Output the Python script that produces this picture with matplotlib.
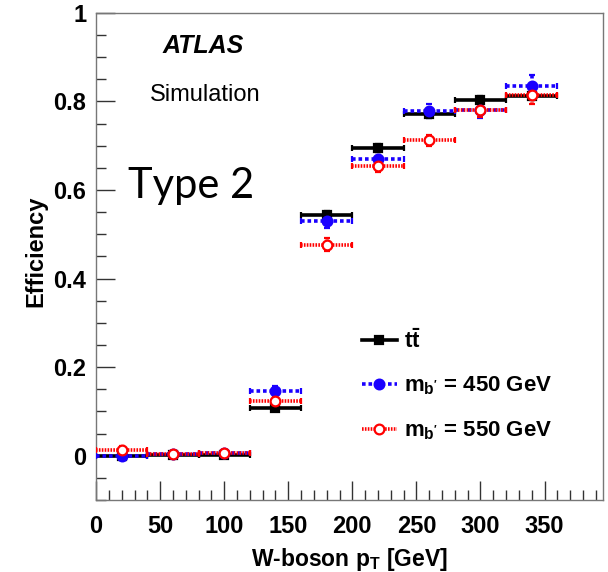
import numpy as np
import matplotlib
matplotlib.use('Agg')
import matplotlib.pyplot as plt
from matplotlib.lines import Line2D
from matplotlib.ticker import MultipleLocator, FixedFormatter, FixedLocator

# W-boson pT bins (GeV)
bin_lo = [0, 40, 80, 120, 160, 200, 240, 280, 320]
bin_hi = [40, 80, 120, 160, 200, 240, 280, 320, 360]

# tagging efficiency per bin
eff_ttbar = [0.000, 0.001, 0.001, 0.108, 0.543, 0.695, 0.771, 0.803, 0.813]
err_ttbar = [0.004, 0.004, 0.004, 0.006, 0.010, 0.008, 0.008, 0.009, 0.010]
eff_b450 = [0.000, 0.004, 0.005, 0.146, 0.530, 0.671, 0.779, 0.780, 0.834]
err_b450 = [0.005, 0.005, 0.005, 0.012, 0.015, 0.016, 0.016, 0.018, 0.026]
eff_b550 = [0.013, 0.004, 0.006, 0.123, 0.477, 0.655, 0.712, 0.780, 0.814]
err_b550 = [0.008, 0.006, 0.006, 0.010, 0.014, 0.014, 0.013, 0.016, 0.020]

lo = np.array(bin_lo)
hi = np.array(bin_hi)
centers = (lo + hi) / 2
half = (hi - lo) / 2

plt.rcParams['font.family'] = ['Liberation Sans', 'DejaVu Sans']
plt.rcParams['mathtext.fontset'] = 'custom'
plt.rcParams['mathtext.rm'] = 'Liberation Sans:bold'
plt.rcParams['mathtext.it'] = 'Liberation Sans:bold'
plt.rcParams['mathtext.bf'] = 'Liberation Sans:bold'

fig = plt.figure(figsize=(6.08, 5.72), dpi=100)
ax = fig.add_axes([0.158, 0.1259, 0.8345, 0.8515])

styles = {
    'ttbar': dict(color='black', marker='s', mfc='black', ls='-', ms=6),
    'b450': dict(color='#1a00ff', marker='o', mfc='#1a00ff', ls=(0, (1.0, 0.8)), ms=7),
    'b550': dict(color='#ff0000', marker='o', mfc='white', ls=(0, (0.45, 0.35)), ms=7),
}


def draw(eff, err, st):
    cont = ax.errorbar(centers, eff, xerr=half, yerr=err, fmt=st['marker'],
                       color=st['color'], mfc=st['mfc'], mec=st['color'], mew=1.6,
                       ms=st['ms'], elinewidth=2.6, capsize=2.5, capthick=2.0,
                       zorder=3)
    for coll in cont[2]:
        coll.set_linestyle(st['ls'])
    return cont


draw(eff_ttbar, err_ttbar, styles['ttbar'])
draw(eff_b450, err_b450, styles['b450'])
draw(eff_b550, err_b550, styles['b550'])

ax.set_xlim(0, 396)
ax.set_ylim(-0.1, 1.0)

ax.xaxis.set_major_locator(MultipleLocator(50))
ax.xaxis.set_minor_locator(MultipleLocator(10))
ax.yaxis.set_major_locator(FixedLocator([0, 0.2, 0.4, 0.6, 0.8, 1.0]))
ax.yaxis.set_major_formatter(FixedFormatter(['0', '0.2', '0.4', '0.6', '0.8', '1']))
ax.yaxis.set_minor_locator(MultipleLocator(0.05))

ax.tick_params(which='both', direction='in', top=False, right=False,
               labelsize=17, color='#333333')
ax.tick_params(which='major', length=14, width=1.0, pad=7)
ax.tick_params(which='minor', length=7, width=1.0)
ax.tick_params(axis='x', which='major', pad=11)
for lab in ax.get_xticklabels() + ax.get_yticklabels():
    lab.set_fontweight('bold')
for sp in ax.spines.values():
    sp.set_color('#777777')
    sp.set_linewidth(1.0)

ax.set_xlabel(r'W-boson p$_{\mathregular{T}}$ [GeV]', fontsize=16.5,
              fontweight='bold')
ax.set_ylabel('Efficiency', fontsize=17, fontweight='bold')
ax.xaxis.set_label_coords(0.5, -0.095)
ax.yaxis.set_label_coords(-0.095, 0.51)

ax.text(0.13, 0.933, 'ATLAS', transform=ax.transAxes, fontsize=18,
        fontweight='bold', style='italic', ha='left', va='center')
ax.text(0.107, 0.832, 'Simulation', transform=ax.transAxes, fontsize=17,
        ha='left', va='center')
ax.text(0.063, 0.645, 'Type 2', transform=ax.transAxes, fontsize=30,
        family='Lato', ha='left', va='center')

handles = []
for key in ['ttbar', 'b450', 'b550']:
    st = styles[key]
    handles.append(Line2D([], [], color=st['color'], lw=2.6, ls=st['ls'],
                          marker=st['marker'], mfc=st['mfc'], mec=st['color'],
                          mew=1.6, ms=st['ms']))
labels = [r'$\mathbf{t\bar{t}}$', r"m$_{\mathregular{b'}}$ = 450 GeV",
          r"m$_{\mathregular{b'}}$ = 550 GeV"]
ax.legend(handles, labels, loc='upper left', bbox_to_anchor=(0.507, 0.37),
          frameon=False, prop={'weight': 'bold', 'size': 16}, handlelength=1.55,
          handletextpad=0.35, labelspacing=1.0, borderaxespad=0)

fig.savefig('out.png', dpi=100, facecolor='white')
